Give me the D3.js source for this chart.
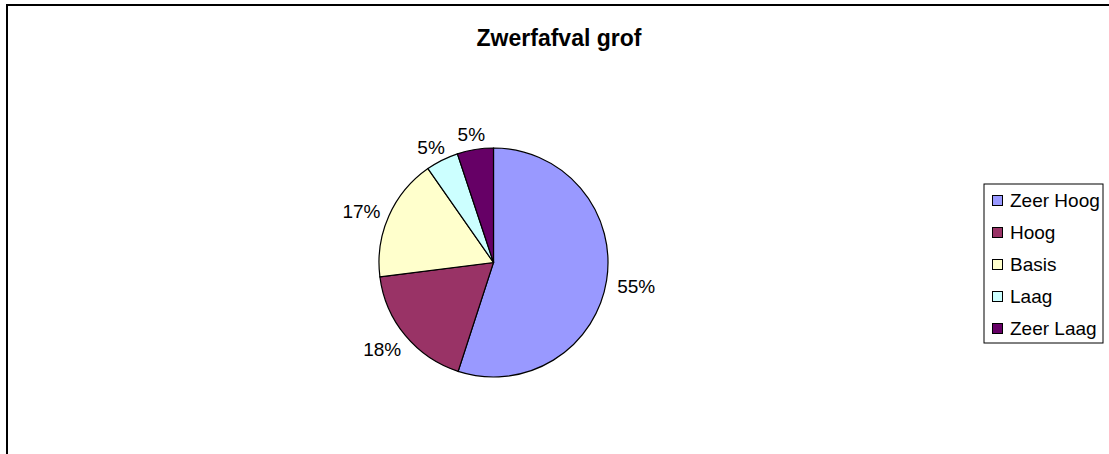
<!DOCTYPE html>
<html>
<head>
<meta charset="utf-8">
<script src="https://cdn.jsdelivr.net/npm/d3@7"></script>
<style>
  body { margin: 0; background: #fff; overflow: hidden; }
  svg { display: block; }
  text { font-family: "Liberation Sans", Arial, sans-serif; }
</style>
</head>
<body>
<div id="chart"></div>
<script>
const categories = ["Zeer Hoog", "Hoog", "Basis", "Laag", "Zeer Laag"];
const values = [55, 18, 17.3, 4.6, 5.1];
const colors = ["#9999ff", "#993366", "#ffffcc", "#ccffff", "#660066"];
const title = "Zwerfafval grof";

const width = 1109, height = 454;
const svg = d3.select("#chart").append("svg")
    .attr("width", width)
    .attr("height", height);

// chart border (runs past the window on the right and bottom)
svg.append("rect")
    .attr("x", 7).attr("y", 5)
    .attr("width", 1130).attr("height", 600)
    .attr("fill", "#fff")
    .attr("stroke", "#000")
    .attr("stroke-width", 2);

svg.append("text")
    .attr("x", 559)
    .attr("y", 46)
    .attr("text-anchor", "middle")
    .style("font-size", "23px")
    .style("font-weight", "bold")
    .text(title);

const cx = 493.5, cy = 262.5, radius = 114.5;
const total = d3.sum(values);

const pie = d3.pie().sort(null).value(d => d.value);
const arcs = pie(categories.map((c, i) => ({name: c, value: values[i], color: colors[i]})));
const arc = d3.arc().innerRadius(0).outerRadius(radius);

const g = svg.append("g").attr("transform", "translate(" + cx + "," + cy + ")");

g.selectAll("path")
    .data(arcs)
    .enter().append("path")
    .attr("d", arc)
    .attr("fill", d => d.data.color)
    .attr("stroke", "#000")
    .attr("stroke-width", 1.2);

// labels sit just outside the rim, pushed out by half their box
const labels = g.selectAll(".lbl")
    .data(arcs)
    .enter().append("text")
    .attr("class", "lbl")
    .attr("text-anchor", "middle")
    .attr("dy", "0.5em")
    .style("font-size", "19px")
    .style("fill", "#000")
    .text(d => Math.round(d.data.value / total * 100) + "%");

labels.each(function(d) {
    const w = this.getComputedTextLength(), h = 14;
    const a = (d.startAngle + d.endAngle) / 2;
    const dx = Math.sin(a), dy = -Math.cos(a);
    const r = radius + 11;
    d3.select(this)
        .attr("x", dx * r + dx * w / 2)
        .attr("y", dy * r + dy * h / 2);
});

// legend
const legend = svg.append("g").attr("transform", "translate(984,184)");
legend.append("rect")
    .attr("width", 119).attr("height", 159)
    .attr("fill", "#fff")
    .attr("stroke", "#000")
    .attr("stroke-width", 1);

const item = legend.selectAll(".legend")
    .data(categories)
    .enter().append("g")
    .attr("class", "legend")
    .attr("transform", (d, i) => "translate(0," + (16 + i * 32) + ")");

item.append("rect")
    .attr("x", 8.5).attr("y", -4.5)
    .attr("width", 10).attr("height", 10)
    .attr("fill", (d, i) => colors[i])
    .attr("stroke", "#000")
    .attr("stroke-width", 1);

item.append("text")
    .attr("x", 26)
    .attr("dy", "0.35em")
    .style("font-size", "19px")
    .text(d => d);
</script>
</body>
</html>
